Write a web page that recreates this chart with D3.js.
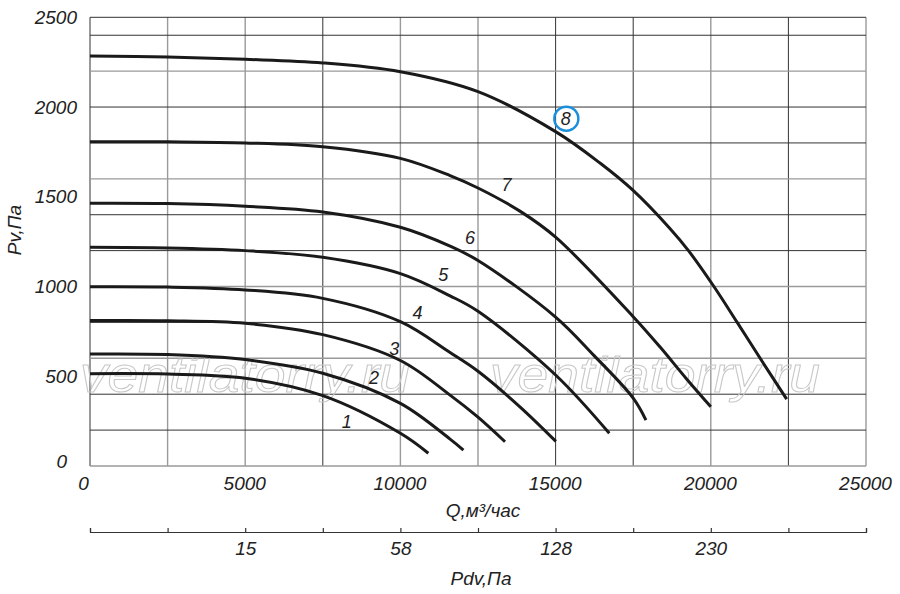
<!DOCTYPE html>
<html><head><meta charset="utf-8">
<script src="https://cdn.jsdelivr.net/npm/d3@7"></script>
<style>
html,body{margin:0;padding:0;background:#fff;}
svg text{font-family:"Liberation Sans",Arial,sans-serif;font-style:italic;fill:#222;}
</style></head>
<body><svg id="chart" width="900" height="594"></svg>
<script>
// ---- data (Q in m³/h, Pv in Pa) ----
const curveNames = ["1","2","3","4","5","6","7","8"];
const curve1 = [[0,514],[2500,512],[5000,489],[7500,392],[10000,182],[10900,71]];
const curve2 = [[0,624],[2500,621],[5000,593],[7500,517],[10000,349],[11600,150],[12030,89]];
const curve3 = [[0,810],[2500,809],[5000,795],[7500,732],[10000,588],[11600,395],[12500,272],[13370,135]];
const curve4 = [[0,999],[2500,997],[5000,981],[7500,934],[10000,804],[11600,632],[12500,528],[13850,330],[15010,137]];
const curve5 = [[0,1219],[2500,1215],[5000,1200],[7500,1163],[10000,1072],[11600,948],[12500,862],[15000,507],[16730,182]];
const curve6 = [[0,1464],[2500,1462],[5000,1447],[7500,1415],[10000,1330],[11600,1225],[12500,1145],[15000,830],[16240,615],[17500,378],[17910,256]];
const curve7 = [[0,1807],[2500,1806],[5000,1800],[7500,1779],[10000,1714],[11600,1618],[12500,1549],[13850,1420],[15000,1275],[17500,832],[18360,664],[19220,485],[20000,330]];
const curve8 = [[0,2284],[2500,2279],[5000,2266],[7500,2246],[10000,2197],[12500,2086],[15000,1863],[16430,1688],[17480,1538],[18690,1322],[19280,1200],[20100,1000],[20850,800],[21590,600],[22360,395],[22445,373]];
const curves = [curve1,curve2,curve3,curve4,curve5,curve6,curve7,curve8];
// curve label anchor points (Q, Pv)
const labelQ = [8270, 9150, 9800, 10550, 11380, 12240, 13420, 15330];
const labelP = [245, 490, 655, 855, 1065, 1270, 1570, 1935];

const qTicks = [0,5000,10000,15000,20000,25000];
const pvTicks = [0,500,1000,1500,2000,2500];
const qGrid = [0,2500,5000,7500,10000,12500,15000,17500,20000,22500,25000];
const pvGrid = [0,200,400,600,800,1000,1200,1400,1600,1800,2000,2200,2400,2500];
const qGridLight = [2500,5000,10000,12500,20000,25000];
const pvGridLight = [0,600,1000,1600,2200];
const pdvTickQ = [5000,10000,15000,20000];
const pdvLabels = ["15","58","128","230"];
const watermark = "ventilatorry.ru";

// ---- drawing ----
const svg = d3.select("#chart");
const x = d3.scaleLinear().domain([0,25000]).range([90,866]);
const y = d3.scaleLinear().domain([0,2500]).range([466,17.3]);

const grid = svg.append("g");
grid.selectAll("line.v").data(qGrid).join("line")
  .attr("x1",d=>x(d)).attr("x2",d=>x(d)).attr("y1",y(0)).attr("y2",y(2500))
  .attr("stroke",d=>qGridLight.includes(d)?"#9a9a9a":"#333")
  .attr("stroke-width",d=>qGridLight.includes(d)?1.4:1);
grid.selectAll("line.h").data(pvGrid).join("line")
  .attr("y1",d=>y(d)).attr("y2",d=>y(d)).attr("x1",x(0)).attr("x2",x(25000))
  .attr("stroke",d=>pvGridLight.includes(d)?"#9a9a9a":"#333")
  .attr("stroke-width",d=>pvGridLight.includes(d)?1.4:1);

// watermark
[[80,392],[490,392]].forEach(p=>{
  svg.append("text").text(watermark)
    .attr("x",p[0]).attr("y",p[1])
    .attr("textLength",330).attr("lengthAdjust","spacingAndGlyphs")
    .style("font-size","50px").style("fill","none")
    .style("stroke","#c8c8c8").style("stroke-width",1);
});

// curves
const line = d3.line().x(d=>x(d[0])).y(d=>y(d[1])).curve(d3.curveCatmullRom.alpha(0.5));
svg.append("g").selectAll("path").data(curves).join("path")
  .attr("d",line).attr("fill","none").attr("stroke","#1a1a1a")
  .attr("stroke-width",3).attr("stroke-linecap","butt");

// curve labels
svg.append("g").selectAll("text").data(curveNames).join("text")
  .attr("x",(d,i)=>x(labelQ[i])).attr("y",(d,i)=>y(labelP[i]))
  .attr("text-anchor","middle").attr("dy","0.35em")
  .style("font-size","18px").text(d=>d);
svg.append("circle").attr("cx",x(labelQ[7])+0.5).attr("cy",y(labelP[7])).attr("r",12)
  .attr("fill","none").attr("stroke","#1b8fdb").attr("stroke-width",2.5);

// Q axis
const gx = svg.append("g").attr("transform",`translate(0,${y(0)})`)
  .call(d3.axisBottom(x).tickValues(qTicks).tickSize(0).tickPadding(10.5).tickFormat(d3.format("d")));
gx.select(".domain").remove();
gx.selectAll("text").style("font-size","19px").style("font-family",null).attr("fill",null)
  .attr("dx",d=>d===0?-7:-1);

// Pv axis
const gy = svg.append("g").attr("transform",`translate(${x(0)},0)`)
  .call(d3.axisLeft(y).tickValues(pvTicks).tickSize(0).tickPadding(13).tickFormat(d3.format("d")));
gy.select(".domain").remove();
gy.selectAll("text").style("font-size","19px").style("font-family",null).attr("fill",null)
  .attr("dx",d=>d===0?-10:0).attr("dy",d=>d===0?"0.1em":"0.32em");

// Pdv axis
const pdvMap = new Map(pdvTickQ.map((q,i)=>[q,pdvLabels[i]]));
const gp = svg.append("g").attr("transform","translate(0,532)")
  .call(d3.axisBottom(x).tickValues(qGrid).tickSizeInner(-4).tickSizeOuter(-4).tickPadding(10)
    .tickFormat(d=>pdvMap.get(d)||""));
gp.selectAll("path,line").attr("stroke","#333").attr("stroke-width",1.2);
gp.selectAll("text").style("font-size","19px").style("font-family",null).attr("fill",null);

// titles
svg.append("text").attr("x",483).attr("y",517).attr("text-anchor","middle")
  .style("font-size","19px").text("Q,м³/час");
svg.append("text").attr("x",481).attr("y",585).attr("text-anchor","middle")
  .style("font-size","19px").text("Pdv,Па");
svg.append("text").attr("transform","translate(21,230) rotate(-90)").attr("text-anchor","middle")
  .style("font-size","19px").text("Pv,Па");
</script></body></html>
